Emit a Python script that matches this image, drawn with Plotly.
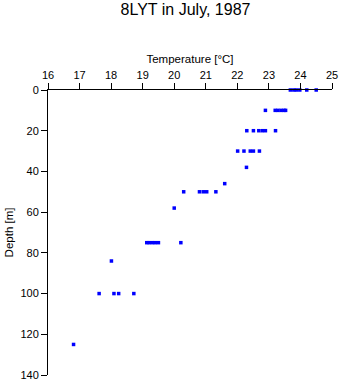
import plotly.graph_objects as go

# Depth [m] and temperature [°C]
depth = [0, 0, 0, 0, 0, 0,
         10, 10, 10, 10, 10, 10,
         20, 20, 20, 20, 20, 20,
         30, 30, 30, 30, 30,
         38,
         46,
         50, 50, 50, 50, 50,
         58,
         75, 75, 75, 75, 75, 75,
         84,
         100, 100, 100, 100,
         125]
temperature = [23.68, 23.79, 23.87, 23.98, 24.20, 24.50,
               22.89, 23.20, 23.29, 23.39, 23.48, 23.53,
               22.30, 22.51, 22.68, 22.79, 22.89, 23.21,
               22.01, 22.21, 22.41, 22.51, 22.70,
               22.29,
               21.60,
               20.30, 20.80, 20.92, 21.03, 21.32,
               20.00,
               19.13, 19.21, 19.31, 19.40, 19.50, 20.21,
               18.01,
               17.62, 18.09, 18.24, 18.72,
               16.81]

x_ticks = list(range(16, 26))
y_ticks = list(range(0, 141, 20))

fig = go.Figure()
fig.add_trace(go.Scatter(
    x=temperature, y=depth, mode="markers",
    marker=dict(symbol="square", size=3.5, color="#0000ff", line=dict(width=0)),
    cliponaxis=False, showlegend=False,
))

font = dict(family="Liberation Sans, Arial, sans-serif", color="black")
fig.update_layout(
    width=341, height=384,
    margin=dict(l=48, r=9, t=90, b=9, autoexpand=False),
    paper_bgcolor="white", plot_bgcolor="white",
    font=dict(size=11, **font),
    title=dict(text="8LYT in July, 1987", x=0.544, xanchor="center", y=0.976,
               yanchor="middle", font=dict(size=16, **font)),
    xaxis=dict(
        side="top", range=[16, 25], tickvals=x_ticks, automargin=False,
        ticks="outside", ticklen=6, tickwidth=1, tickcolor="black",
        showline=True, linecolor="black", linewidth=1,
        showgrid=False, zeroline=False,
        title=dict(text="Temperature [°C]", standoff=2, font=dict(size=11.5)),
        tickfont=dict(size=11),
    ),
    yaxis=dict(
        range=[140, 0], tickvals=y_ticks, automargin=False,
        ticks="outside", ticklen=6, tickwidth=1, tickcolor="black",
        showline=True, linecolor="black", linewidth=1,
        showgrid=False, zeroline=False,
        title=dict(text="Depth [m]", standoff=4, font=dict(size=11.5)),
        tickfont=dict(size=11),
    ),
)

fig.write_html("out.html")
